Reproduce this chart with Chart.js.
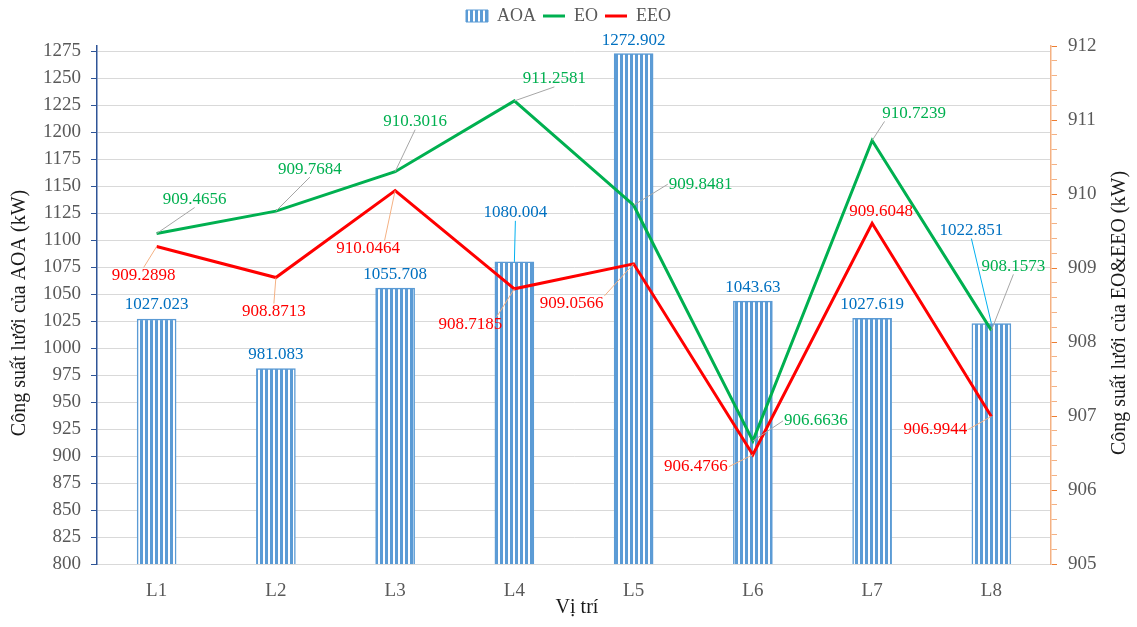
<!DOCTYPE html>
<html>
<head>
<meta charset="utf-8">
<script src="https://cdn.jsdelivr.net/npm/chart.js@4.4.1/dist/chart.umd.min.js"></script>
<style>
  html, body { margin: 0; padding: 0; background: #fff; }
  #wrap { width: 1137px; height: 627px; }
</style>
</head>
<body>
<div id="wrap"><canvas id="chart" width="1137" height="627"></canvas></div>
<script>
const categories = ["L1", "L2", "L3", "L4", "L5", "L6", "L7", "L8"];
const aoaValues = [1027.023, 981.083, 1055.708, 1080.004, 1272.902, 1043.63, 1027.619, 1022.851];
const eoValues = [909.4656, 909.7684, 910.3016, 911.2581, 909.8481, 906.6636, 910.7239, 908.1573];
const eeoValues = [909.2898, 908.8713, 910.0464, 908.7185, 909.0566, 906.4766, 909.6048, 906.9944];
const leftTicks = [800, 825, 850, 875, 900, 925, 950, 975, 1000, 1025, 1050, 1075, 1100,
  1125, 1150, 1175, 1200, 1225, 1250, 1275];
const rightTicks = [905, 906, 907, 908, 909, 910, 911, 912];

// label placement: [dx, dy, leader anchor x, leader anchor y] (anchor null = no leader)
const placeAOA = [[0, -14, null, null], [0, -14, null, null], [0, -14, null, null], [1, -49, 0, 1],
  [0, -13, null, null], [0, -14, null, null], [0, -14, null, null], [-20, -93, 0, 1]];
const placeEO = [[38, -34, 0, 1], [34, -42, 0, 1], [20, -50, 0, 1], [40, -22, 0, 1],
  [67, -21, -1, 0], [63, -20, -1, 0], [42, -27, -0.9, 1], [22, -64, 0, 1]];
const placeEEO = [[-13, 29, 0, -1], [-2, 34, 0, -1], [-27, 58, 0.5, -1], [-44, 36, 0.8, -1],
  [-62, 40, 1, -1], [-57, 12, 1, 0], [9, -12, null, null], [-56, 13, 1, 0]];

const serif = '"Liberation Serif", "Times New Roman", serif';
const canvas = document.getElementById("chart");
const ctx = canvas.getContext("2d");

function stripePattern() {
  const c = document.createElement("canvas");
  c.width = 5;
  c.height = 4;
  const g = c.getContext("2d");
  g.fillStyle = "#5b9bd5";
  g.fillRect(0, 0, 5, 4);
  g.fillStyle = "#ffffff";
  g.fillRect(3, 0, 2, 4);
  return ctx.createPattern(c, "repeat");
}

const legendHeightFix = {
  id: "legendHeightFix",
  beforeLayout(chart) {
    const lg = chart.legend;
    if (lg && !lg._fixed) {
      const fit = lg.fit;
      lg.fit = function () {
        fit.call(this);
        this.height = 46;
      };
      lg._fixed = true;
    }
  }
};

const valueLabels = {
  id: "valueLabels",
  afterDatasetsDraw(chart) {
    const c = chart.ctx;
    const places = [placeAOA, placeEO, placeEEO];
    c.save();
    c.font = "17px " + serif;
    c.textAlign = "center";
    c.textBaseline = "middle";
    chart.data.datasets.forEach((ds, di) => {
      const meta = chart.getDatasetMeta(di);
      meta.data.forEach((el, j) => {
        const text = String(ds.data[j]);
        const [dx, dy, ax, ay] = places[di][j];
        const cx = el.x + dx;
        const cy = el.y + dy;
        if (ax !== null) {
          const hw = c.measureText(text).width / 2 + 1;
          const hh = 8;
          c.strokeStyle = ds.leaderColor;
          c.lineWidth = 1;
          c.beginPath();
          c.moveTo(el.x, el.y);
          c.lineTo(cx + ax * hw, cy + ay * hh);
          c.stroke();
        }
        c.fillStyle = ds.labelColor;
        c.fillText(text, cx, cy);
      });
    });
    c.restore();
  }
};

const axisTitles = {
  id: "axisTitles",
  afterDraw(chart) {
    const c = chart.ctx;
    const area = chart.chartArea;
    const midY = (area.top + area.bottom) / 2 + 8;
    c.save();
    c.font = "20px " + serif;
    c.fillStyle = "#1a1a1a";
    c.textAlign = "center";
    c.textBaseline = "middle";
    c.fillText("Vị trí", 577, 608);
    [[20, "Công suất lưới của AOA (kW)"], [1120, "Công suất lưới của EO&EEO (kW)"]].forEach(([x, t]) => {
      c.save();
      c.translate(x, midY);
      c.rotate(-Math.PI / 2);
      c.fillText(t, 0, 0);
      c.restore();
    });
    c.restore();
  }
};

new Chart(canvas, {
  data: {
    labels: categories,
    datasets: [
      {
        type: "bar",
        label: "AOA",
        data: aoaValues,
        yAxisID: "y",
        backgroundColor: stripePattern(),
        borderColor: "#5b9bd5",
        borderWidth: 1.5,
        barThickness: 39,
        order: 2,
        labelColor: "#0070c0",
        leaderColor: "#00b0f0"
      },
      {
        type: "line",
        label: "EO",
        data: eoValues,
        yAxisID: "y1",
        borderColor: "#00b050",
        backgroundColor: "#00b050",
        borderWidth: 3,
        pointRadius: 0,
        tension: 0,
        order: 1,
        labelColor: "#00b050",
        leaderColor: "#a6a6a6"
      },
      {
        type: "line",
        label: "EEO",
        data: eeoValues,
        yAxisID: "y1",
        borderColor: "#ff0000",
        backgroundColor: "#ff0000",
        borderWidth: 3,
        pointRadius: 0,
        tension: 0,
        order: 0,
        labelColor: "#ff0000",
        leaderColor: "#f4b183"
      }
    ]
  },
  options: {
    responsive: false,
    animation: false,
    devicePixelRatio: 1,
    layout: { padding: 0 },
    plugins: {
      tooltip: { enabled: false },
      legend: {
        position: "top",
        labels: {
          usePointStyle: true,
          pointStyleWidth: 22,
          boxHeight: 12,
          padding: 7,
          color: "#595959",
          font: { family: serif, size: 18 },
          sort: (a, b) => a.datasetIndex - b.datasetIndex,
          generateLabels(chart) {
            const items = Chart.defaults.plugins.legend.labels.generateLabels(chart);
            items.forEach((it) => {
              if (it.datasetIndex === 0) {
                it.pointStyle = "rect";
                it.lineWidth = 1;
              } else {
                it.pointStyle = "line";
                it.lineWidth = 3;
              }
            });
            return items;
          }
        }
      }
    },
    scales: {
      x: {
        grid: { display: false, drawTicks: false },
        border: { color: "#d9d9d9", width: 1 },
        ticks: { color: "#595959", padding: 16, font: { family: serif, size: 19 } },
        afterFit(scale) { scale.height = 63; }
      },
      y: {
        position: "left",
        min: 800,
        max: 1280,
        afterBuildTicks(scale) { scale.ticks = leftTicks.map((v) => ({ value: v })); },
        grid: { color: "#d9d9d9", tickColor: "#2f5597", tickLength: 6 },
        border: { color: "#2f5597", width: 1.5 },
        ticks: {
          color: "#595959",
          padding: 10,
          font: { family: serif, size: 19 },
          callback: (v) => String(v)
        },
        afterFit(scale) { scale.width = 97; }
      },
      y1: {
        position: "right",
        min: 905,
        max: 912,
        afterBuildTicks(scale) {
          const ticks = [];
          for (let i = 0; i <= (rightTicks.length - 1) * 5; i++) {
            ticks.push({ value: Math.round((rightTicks[0] + i * 0.2) * 10) / 10 });
          }
          scale.ticks = ticks;
        },
        grid: {
          drawOnChartArea: false,
          tickLength: 6,
          tickColor: (c) => (Number.isInteger(c.tick.value) ? "#ed7d31" : "#f4b183")
        },
        border: { color: "#f4b183", width: 1.5 },
        ticks: {
          autoSkip: false,
          color: "#595959",
          padding: 11,
          font: { family: serif, size: 19 },
          callback: (v) => (rightTicks.includes(v) ? String(v) : "")
        },
        afterFit(scale) { scale.width = 86; }
      }
    }
  },
  plugins: [legendHeightFix, valueLabels, axisTitles]
});
</script>
</body>
</html>
